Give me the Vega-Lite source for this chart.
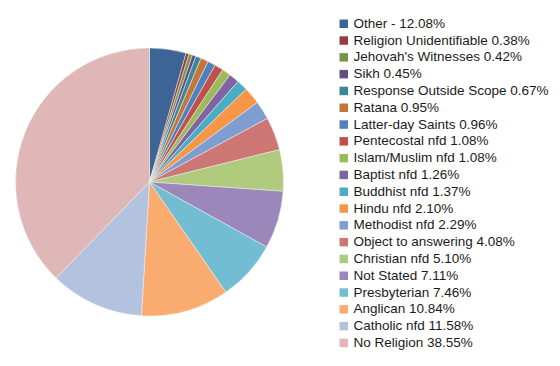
{
  "$schema": "https://vega.github.io/schema/vega-lite/v6.json",
  "width": 299,
  "height": 364,
  "padding": 0,
  "autosize": "pad",
  "background": "white",
  "data": {
    "values": [
      {"label": "Other - 12.08%", "value": 4.5, "idx": 1},
      {"label": "Religion Unidentifiable 0.38%", "value": 0.38, "idx": 2},
      {"label": "Jehovah's Witnesses 0.42%", "value": 0.42, "idx": 3},
      {"label": "Sikh 0.45%", "value": 0.45, "idx": 4},
      {"label": "Response Outside Scope 0.67%", "value": 0.67, "idx": 5},
      {"label": "Ratana 0.95%", "value": 0.95, "idx": 6},
      {"label": "Latter-day Saints 0.96%", "value": 0.96, "idx": 7},
      {"label": "Pentecostal nfd 1.08%", "value": 1.08, "idx": 8},
      {"label": "Islam/Muslim nfd 1.08%", "value": 1.08, "idx": 9},
      {"label": "Baptist nfd 1.26%", "value": 1.26, "idx": 10},
      {"label": "Buddhist nfd 1.37%", "value": 1.37, "idx": 11},
      {"label": "Hindu nfd 2.10%", "value": 2.10, "idx": 12},
      {"label": "Methodist nfd 2.29%", "value": 2.29, "idx": 13},
      {"label": "Object to answering 4.08%", "value": 4.08, "idx": 14},
      {"label": "Christian nfd 5.10%", "value": 5.10, "idx": 15},
      {"label": "Not Stated 7.11%", "value": 7.11, "idx": 16},
      {"label": "Presbyterian 7.46%", "value": 7.46, "idx": 17},
      {"label": "Anglican 10.84%", "value": 10.84, "idx": 18},
      {"label": "Catholic nfd 11.58%", "value": 11.58, "idx": 19},
      {"label": "No Religion 38.55%", "value": 38.55, "idx": 20}
    ]
  },
  "mark": {"type": "arc", "radius": 134, "stroke": "#f2f2f2", "strokeWidth": 0.5},
  "encoding": {
    "theta": {"field": "value", "type": "quantitative", "stack": true},
    "order": {"field": "idx", "type": "quantitative"},
    "color": {
      "field": "label",
      "type": "nominal",
      "sort": {"field": "idx"},
      "scale": {
        "domain": ["Other - 12.08%", "Religion Unidentifiable 0.38%", "Jehovah's Witnesses 0.42%", "Sikh 0.45%", "Response Outside Scope 0.67%", "Ratana 0.95%", "Latter-day Saints 0.96%", "Pentecostal nfd 1.08%", "Islam/Muslim nfd 1.08%", "Baptist nfd 1.26%", "Buddhist nfd 1.37%", "Hindu nfd 2.10%", "Methodist nfd 2.29%", "Object to answering 4.08%", "Christian nfd 5.10%", "Not Stated 7.11%", "Presbyterian 7.46%", "Anglican 10.84%", "Catholic nfd 11.58%", "No Religion 38.55%"],
        "range": ["#3c6596", "#963c3a", "#779446", "#634e82", "#38879b", "#c47538", "#4f81bd", "#c0504d", "#9bbb59", "#8064a2", "#4bacc6", "#f79646", "#7f9ecf", "#cd7775", "#b0ca7e", "#9b87b9", "#73bdd3", "#f9ab70", "#b2c2df", "#dfb7b7"]
      },
      "legend": {
        "title": null,
        "orient": "none",
        "legendX": 337,
        "legendY": 17,
        "padding": 0,
        "symbolType": "square",
        "symbolSize": 72,
        "symbolStrokeWidth": 0,
        "labelFont": "Liberation Sans",
        "labelFontSize": 13.5,
        "labelColor": "#1a1a1a",
        "labelOffset": 3,
        "rowPadding": 1.8,
        "labelLimit": 300
      }
    }
  },
  "config": {"view": {"stroke": null}}
}
